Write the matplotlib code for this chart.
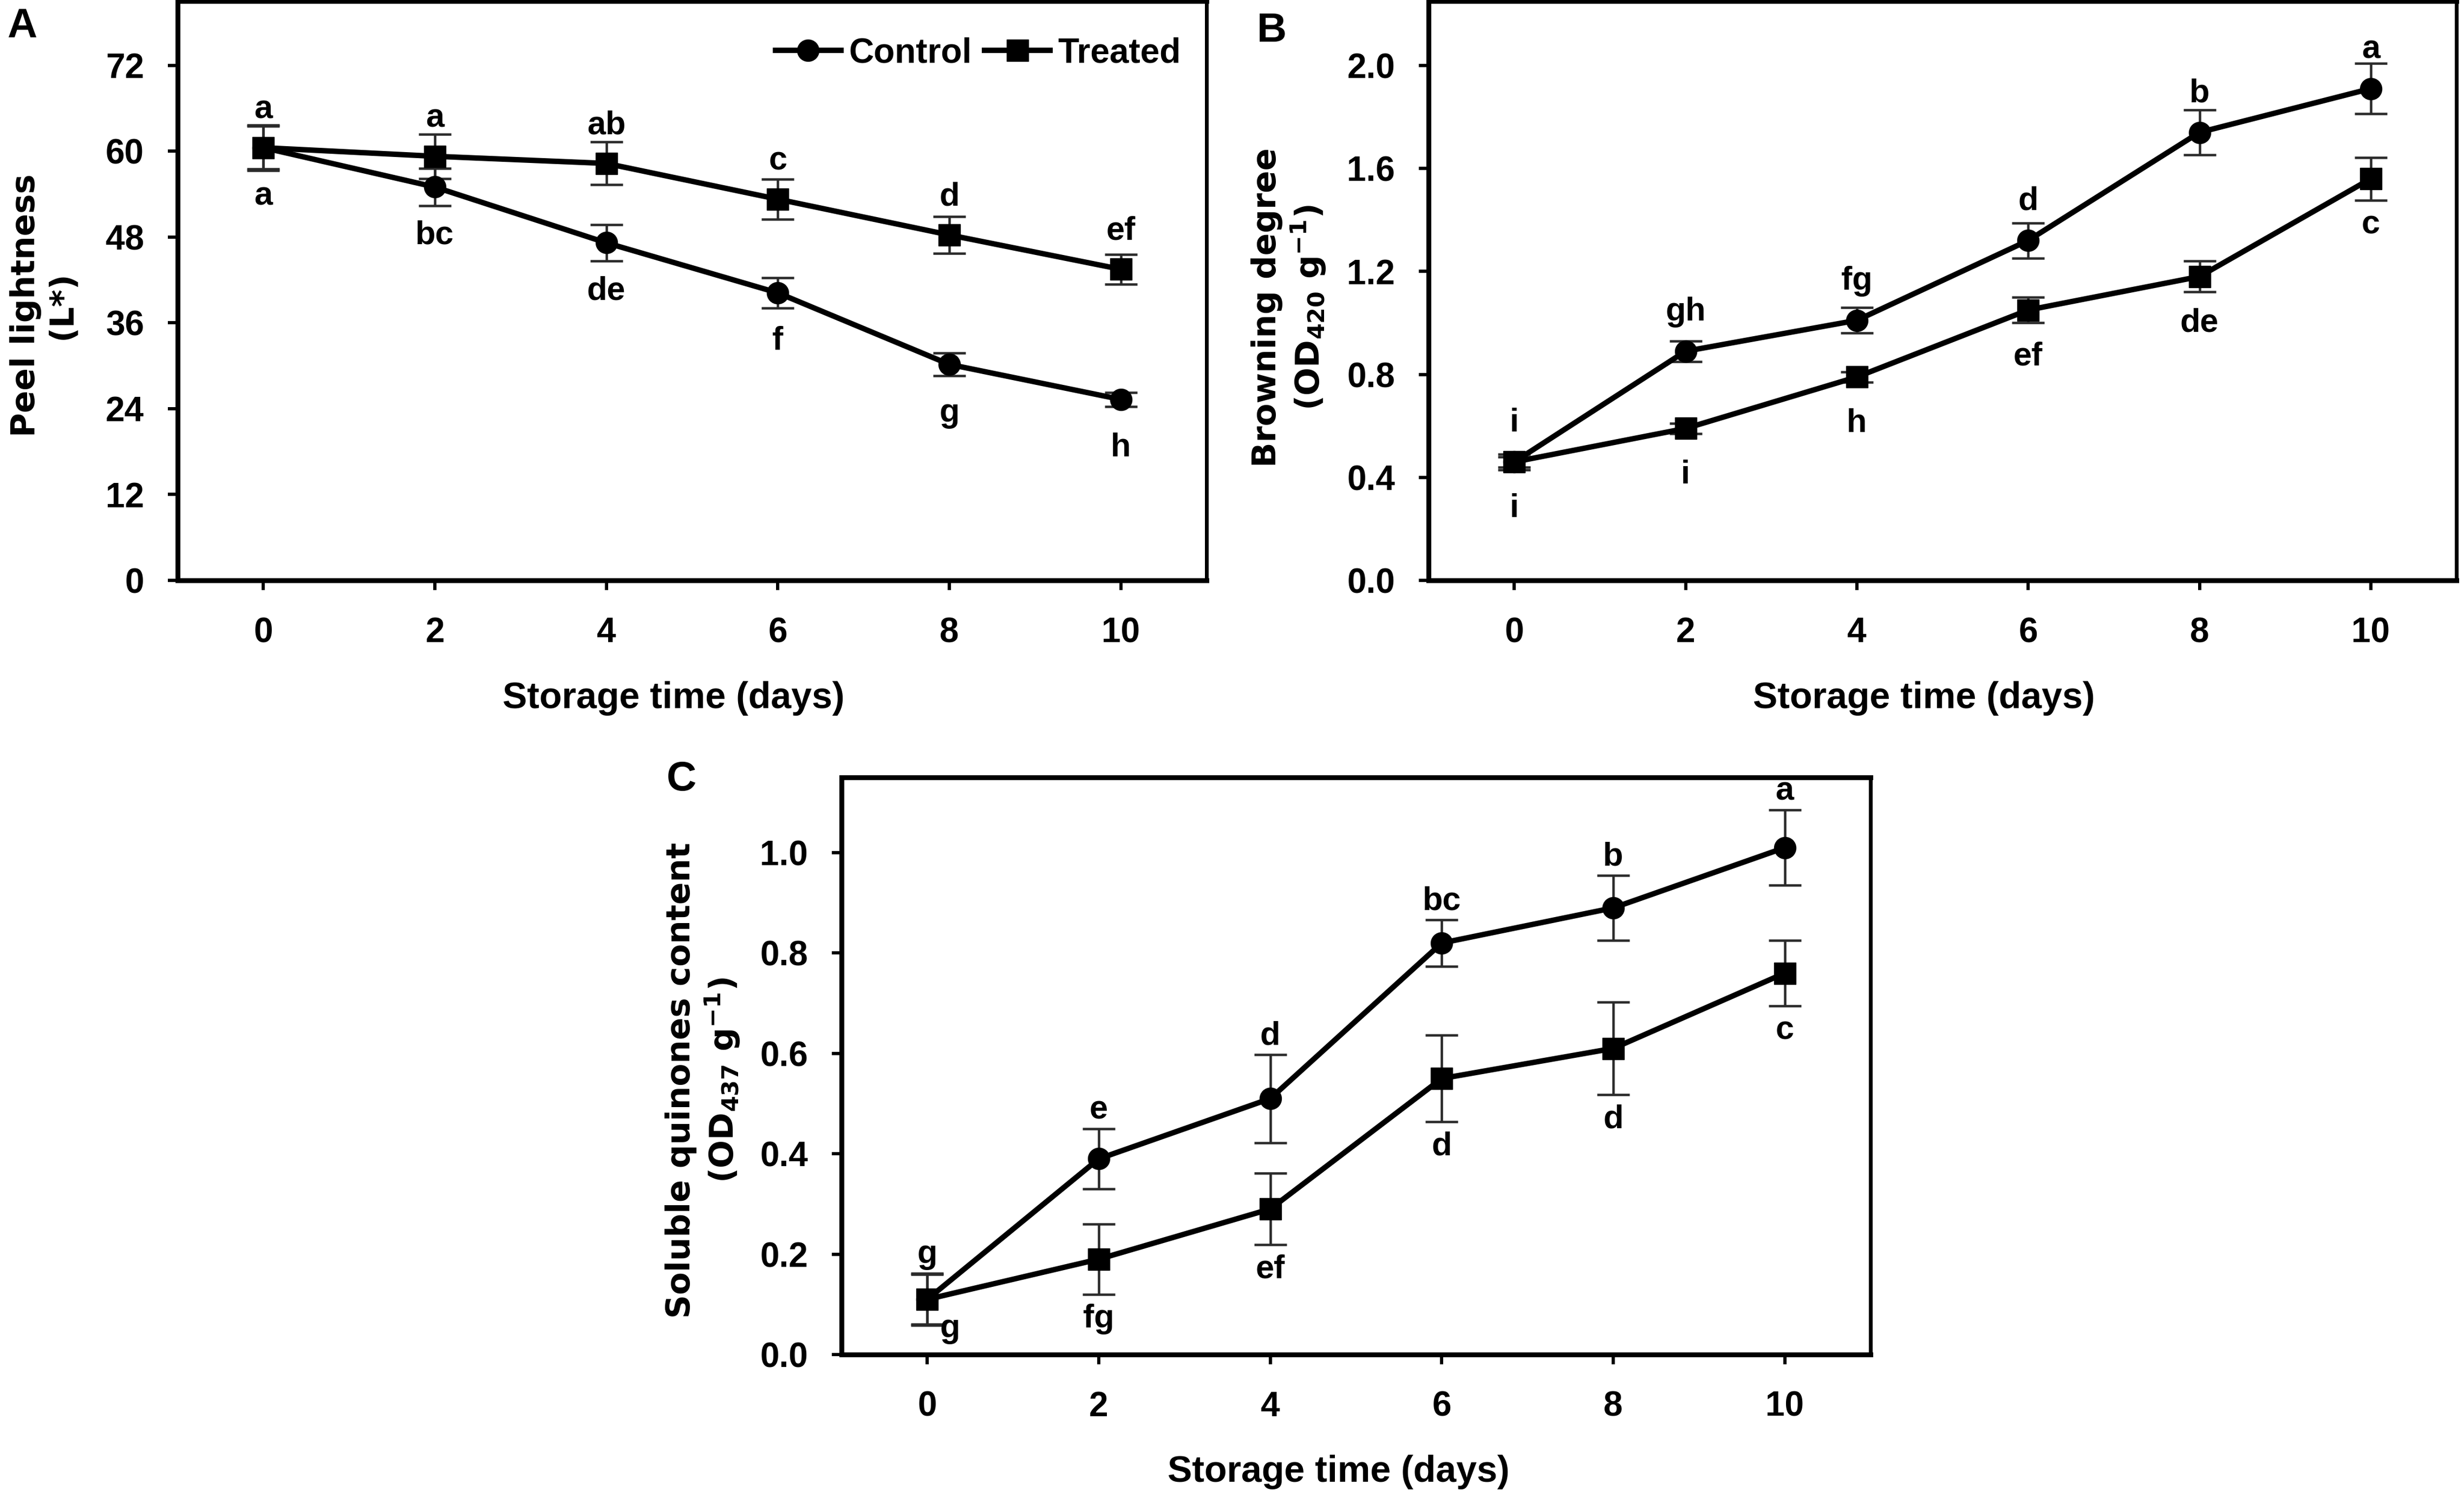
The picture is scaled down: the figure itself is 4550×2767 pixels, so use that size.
import matplotlib
matplotlib.use('Agg')
import matplotlib.pyplot as plt
from matplotlib import font_manager

# ---------------- data ----------------
days = [0, 2, 4, 6, 8, 10]

A_control = [60.5, 55.0, 47.2, 40.2, 30.2, 25.3]
A_control_err = [3.0, 2.6, 2.5, 2.1, 1.6, 1.0]
A_treated = [60.5, 59.3, 58.3, 53.3, 48.3, 43.5]
A_treated_err = [3.2, 3.1, 3.0, 2.8, 2.6, 2.1]
A_control_letters = ['a', 'bc', 'de', 'f', 'g', 'h']
A_treated_letters = ['a', 'a', 'ab', 'c', 'd', 'ef']

B_control = [0.46, 0.89, 1.01, 1.32, 1.74, 1.91]
B_control_err = [0.02, 0.04, 0.05, 0.068, 0.088, 0.098]
B_treated = [0.46, 0.59, 0.79, 1.05, 1.18, 1.56]
B_treated_err = [0.03, 0.02, 0.02, 0.05, 0.06, 0.083]
B_control_letters = ['i', 'gh', 'fg', 'd', 'b', 'a']
B_treated_letters = ['i', 'i', 'h', 'ef', 'de', 'c']

C_control = [0.11, 0.39, 0.51, 0.82, 0.89, 1.01]
C_control_err = [0.052, 0.06, 0.088, 0.046, 0.065, 0.075]
C_treated = [0.11, 0.19, 0.29, 0.55, 0.61, 0.76]
C_treated_err = [0.05, 0.07, 0.071, 0.086, 0.092, 0.065]
C_control_letters = ['g', 'e', 'd', 'bc', 'b', 'a']
C_treated_letters = ['g', 'fg', 'ef', 'd', 'd', 'c']

x_ticks = [0, 2, 4, 6, 8, 10]
A_yticks = [0, 12, 24, 36, 48, 60, 72]
B_yticks = [0.0, 0.4, 0.8, 1.2, 1.6, 2.0]
C_yticks = [0.0, 0.2, 0.4, 0.6, 0.8, 1.0]

series_names = ['Control', 'Treated']
xlabel_text = 'Storage time (days)'
A_ylabel = 'Peel lightness\n(L*)'
B_ylabel = 'Browning degree\n(OD$_{420}$ g$^{-1}$)'
C_ylabel = 'Soluble quinones content\n(OD$_{437}$ g$^{-1}$)'

# ---------------- style ----------------
W, H, DPI = 4550, 2767, 100
PT = 72.0 / DPI  # points per pixel

plt.rcParams['font.family'] = ['Liberation Sans', 'DejaVu Sans']
plt.rcParams['font.weight'] = 'bold'
plt.rcParams['mathtext.default'] = 'regular'

names = {f.name for f in font_manager.fontManager.ttflist}
NARROW = 'Liberation Sans Narrow' if 'Liberation Sans Narrow' in names else 'Liberation Sans'
LETTER_SIZE = 48 if NARROW == 'Liberation Sans Narrow' else 44

fig = plt.figure(figsize=(W / DPI, H / DPI), dpi=DPI)
fig.patch.set_facecolor('white')


def make_axes(left, right, top, bottom):
    return fig.add_axes([left / W, 1 - bottom / H, (right - left) / W, (bottom - top) / H])


def style_axes(ax, ylim, yticks, yfmt, ylabel, ylabel_x, ylabel_y, xlabel_x, xlabel_y):
    ax.set_xlim(-1, 11)
    ax.set_ylim(*ylim)
    ax.set_xticks(x_ticks)
    ax.set_xticklabels([str(t) for t in x_ticks])
    ax.set_yticks(yticks)
    ax.set_yticklabels([yfmt.format(t) for t in yticks])
    for side in ['left', 'bottom', 'top']:
        ax.spines[side].set_linewidth(9 * PT)
    ax.spines['right'].set_linewidth(7 * PT)
    ax.tick_params(axis='both', direction='out', length=18 * PT, width=6 * PT,
                   labelsize=46)
    ax.tick_params(axis='y', pad=44 * PT)
    ax.tick_params(axis='x', pad=49 * PT)
    for lab in ax.get_xticklabels() + ax.get_yticklabels():
        lab.set_fontweight('bold')
    ax.set_xlabel(xlabel_text, fontsize=49, fontweight='bold')
    ax.xaxis.set_label_coords(xlabel_x, xlabel_y)
    ax.xaxis.label.set_verticalalignment('top')
    ax.set_ylabel(ylabel, fontsize=44, fontweight='bold',
                  family=['DejaVu Sans'], linespacing=1.2)
    ax.yaxis.set_label_coords(ylabel_x, ylabel_y)


def draw_series(ax, ctrl, ctrl_err, trt, trt_err, with_label=False):
    for vals, errs in [(ctrl, ctrl_err), (trt, trt_err)]:
        ax.errorbar(days, vals, yerr=errs, fmt='none', ecolor='#2a2a2a',
                    elinewidth=4.5 * PT, capsize=30 * PT, capthick=4.5 * PT, zorder=2)
    ax.plot(days, ctrl, '-o', color='black', lw=10 * PT, ms=40 * PT, zorder=3,
            label=series_names[0] if with_label else None)
    ax.plot(days, trt, '-s', color='black', lw=10 * PT, ms=40 * PT, zorder=4,
            label=series_names[1] if with_label else None)


def letters_at(ax, xs, ys, letters, dy_px, dx_px=0):
    for x, y, t in zip(xs, ys, letters):
        ax.annotate(t, xy=(x, y), xytext=(dx_px * PT, dy_px * PT),
                    textcoords='offset points', ha='center', va='center',
                    fontsize=LETTER_SIZE, fontweight='bold', family=[NARROW, 'DejaVu Sans'],
                    zorder=5)


# ---------------- Panel A ----------------
axA = make_axes(328, 2228, 2, 1072)
draw_series(axA, A_control, A_control_err, A_treated, A_treated_err, with_label=True)
style_axes(axA, (0, 81), A_yticks, '{:d}', A_ylabel, -0.0963, 0.475, 0.482, -0.174)
letters_at(axA, days, A_treated, A_treated_letters, 70)
letters_at(axA, days, A_control, A_control_letters, -90)
leg = axA.legend(loc='center right', bbox_to_anchor=(0.975, 0.910), frameon=False, ncol=2,
                 handlelength=1.9, handletextpad=0.22, columnspacing=0.37,
                 borderpad=0, borderaxespad=0, prop={'size': 46, 'weight': 'bold'})

# ---------------- Panel B ----------------
axB = make_axes(2638, 4536, 2, 1072)
draw_series(axB, B_control, B_control_err, B_treated, B_treated_err)
style_axes(axB, (0, 2.25), B_yticks, '{:.1f}', B_ylabel, -0.098, 0.471, 0.482, -0.174)
letters_at(axB, days, B_control, B_control_letters, 72)
letters_at(axB, days, B_treated, B_treated_letters, -86)

# ---------------- Panel C ----------------
axC = make_axes(1554, 3454, 1436, 2502)
draw_series(axC, C_control, C_control_err, C_treated, C_treated_err)
style_axes(axC, (0, 1.15), C_yticks, '{:.1f}', C_ylabel, -0.0968, 0.475, 0.483, -0.1735)
# control letters sit above the upper error-bar caps
letters_at(axC, days, [v + e for v, e in zip(C_control, C_control_err)], C_control_letters, 34)
# treated letters sit below the lower error-bar caps (first one beside the overlapping point)
letters_at(axC, days[1:], [v - e for v, e in zip(C_treated[1:], C_treated_err[1:])],
           C_treated_letters[1:], -46)
letters_at(axC, days[:1], C_treated[:1], C_treated_letters[:1], -54, dx_px=42)

# ---------------- panel tags ----------------
for tag, xp, yp in [('A', 13, 14), ('B', 2321, 22), ('C', 1231, 1405)]:
    fig.text(xp / W, 1 - yp / H, tag, ha='left', va='top', fontsize=55, fontweight='bold')

fig.savefig('out.png', dpi=DPI, facecolor='white')
